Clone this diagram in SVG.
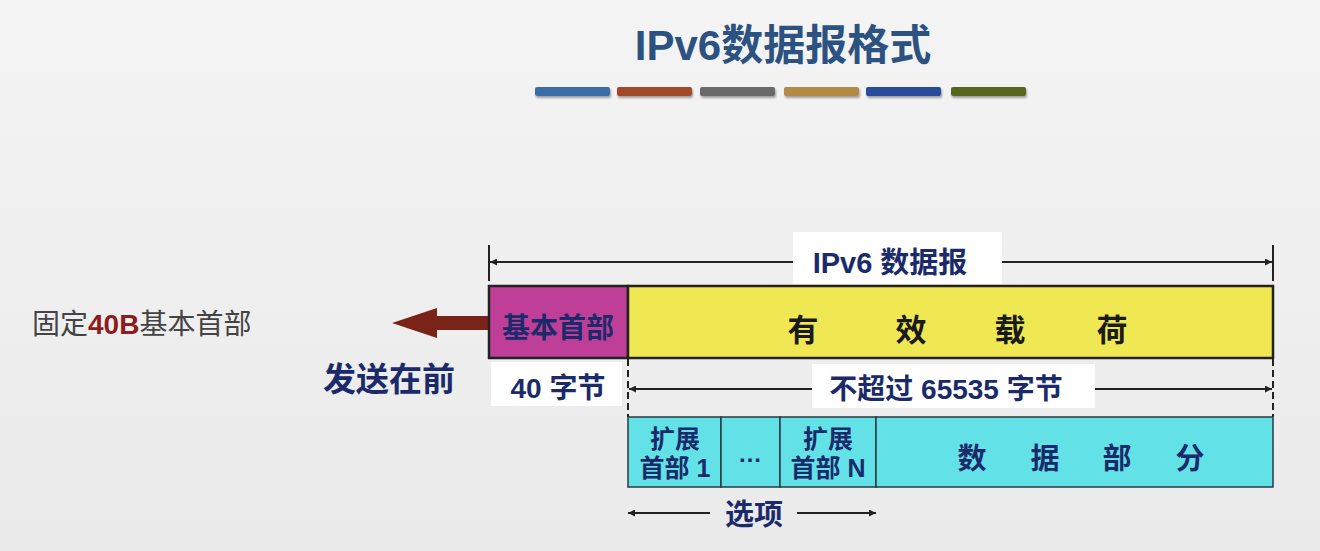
<svg xmlns="http://www.w3.org/2000/svg" width="1320" height="551" viewBox="0 0 1320 551">
  <defs>
    <linearGradient id="bg" x1="0" y1="0" x2="0" y2="1">
      <stop offset="0" stop-color="#f4f4f4"/>
      <stop offset="1" stop-color="#eaeaea"/>
    </linearGradient>
    <marker id="ah" viewBox="0 0 10 10" refX="10" refY="5" markerWidth="9" markerHeight="7" markerUnits="userSpaceOnUse" orient="auto-start-reverse">
      <path d="M0,0 L10,5 L0,10 z" fill="#222"/>
    </marker>
    <filter id="sh" x="-10%" y="-50%" width="120%" height="200%">
      <feDropShadow dx="1" dy="2" stdDeviation="1.2" flood-color="#000" flood-opacity="0.35"/>
    </filter>
  </defs>
  <style>
    text { font-family: "Liberation Sans", "Noto Sans CJK SC", sans-serif; }
    .navy { fill: #1b2a6b; font-weight: bold; }
    .cell { stroke: #2a3a40; stroke-width: 1.5; }
    .box { stroke: #222; stroke-width: 2.5; }
    .dim { stroke: #222; stroke-width: 2; fill: none; }
    .tick { stroke: #222; stroke-width: 2; }
    .dash { stroke: #222; stroke-width: 2; stroke-dasharray: 7 4; }
    .lbl { fill: #ffffff; }
  </style>

  <rect width="1320" height="551" fill="url(#bg)"/>

  <!-- title -->
  <g id="title">
    <text x="783" y="60" text-anchor="middle" font-size="42" font-weight="bold" fill="#2c5282">IPv6数据报格式</text>
    <g filter="url(#sh)">
      <rect x="535" y="87" width="75" height="9" rx="2" fill="#3b6ea8"/>
      <rect x="617" y="87" width="75" height="9" rx="2" fill="#a24a2c"/>
      <rect x="700" y="87" width="75" height="9" rx="2" fill="#6b6b6b"/>
      <rect x="784" y="87" width="75" height="9" rx="2" fill="#b38a44"/>
      <rect x="866" y="87" width="75" height="9" rx="2" fill="#2c4c9c"/>
      <rect x="951" y="87" width="75" height="9" rx="2" fill="#56661c"/>
    </g>
  </g>

  <!-- side notes -->
  <g id="note-fixed">
    <text x="32" y="334" font-size="28" fill="#444">固定<tspan fill="#8e1c1c" font-weight="bold">40B</tspan>基本首部</text>
  </g>
  <g id="note-send">
    <text x="323" y="391" font-size="33" class="navy">发送在前</text>
  </g>

  <!-- connectors and dimension lines -->
  <g id="connectors">
    <!-- send-first arrow -->
    <path d="M489,316 L437,316 L437,308 L392,323 L437,338 L437,330 L489,330 z" fill="#7a2318"/>

    <!-- whole datagram span -->
    <line class="tick" x1="489" y1="245" x2="489" y2="281"/>
    <line class="tick" x1="1273" y1="245" x2="1273" y2="281"/>
    <line class="dim" x1="490" y1="262" x2="1272" y2="262" marker-start="url(#ah)" marker-end="url(#ah)"/>

    <!-- payload span -->
    <line class="dash" x1="628" y1="359" x2="628" y2="417"/>
    <line class="dash" x1="1273" y1="359" x2="1273" y2="417"/>
    <line class="dim" x1="629" y1="389" x2="1272" y2="389" marker-start="url(#ah)" marker-end="url(#ah)"/>

    <!-- options span -->
    <line class="dim" x1="628" y1="513" x2="710" y2="513" marker-start="url(#ah)"/>
    <line class="dim" x1="797" y1="513" x2="876" y2="513" marker-end="url(#ah)"/>
  </g>

  <!-- dimension labels -->
  <g id="label-datagram">
    <rect class="lbl" x="793" y="232" width="209" height="52"/>
    <text x="890" y="273" text-anchor="middle" font-size="29" class="navy">IPv6 数据报</text>
  </g>
  <g id="label-payload-size">
    <rect class="lbl" x="812" y="364" width="283" height="44"/>
    <text x="946" y="399" text-anchor="middle" font-size="28" class="navy">不超过 65535 字节</text>
  </g>
  <g id="label-header-size">
    <rect class="lbl" x="491" y="362" width="131" height="44"/>
    <text x="558" y="398" text-anchor="middle" font-size="28" class="navy">40 字节</text>
  </g>
  <g id="label-options">
    <text x="754" y="525" text-anchor="middle" font-size="29" class="navy">选项</text>
  </g>

  <!-- datagram row -->
  <g id="base-header">
    <rect class="box" x="489" y="286" width="139" height="72" fill="#bf3f98"/>
    <text x="558" y="338" text-anchor="middle" font-size="28" class="navy">基本首部</text>
  </g>
  <g id="payload">
    <rect class="box" x="628" y="286" width="645" height="72" fill="#f0e852"/>
    <text y="341" font-size="31" fill="#1a1a1a" font-weight="bold" text-anchor="middle">
      <tspan x="803">有</tspan><tspan x="911">效</tspan><tspan x="1010">载</tspan><tspan x="1112">荷</tspan>
    </text>
  </g>

  <!-- payload breakdown row -->
  <g id="ext-header-1">
    <rect class="cell" x="628" y="417" width="93" height="70" fill="#62e2e6"/>
    <text x="675" y="448" text-anchor="middle" font-size="25" class="navy">扩展</text>
    <text x="675" y="477" text-anchor="middle" font-size="25" class="navy">首部 1</text>
  </g>
  <g id="ext-header-more">
    <rect class="cell" x="721" y="417" width="59" height="70" fill="#62e2e6"/>
    <text x="750" y="462" text-anchor="middle" font-size="24" class="navy">…</text>
  </g>
  <g id="ext-header-n">
    <rect class="cell" x="780" y="417" width="96" height="70" fill="#62e2e6"/>
    <text x="828" y="448" text-anchor="middle" font-size="25" class="navy">扩展</text>
    <text x="828" y="477" text-anchor="middle" font-size="25" class="navy">首部 N</text>
  </g>
  <g id="data-part">
    <rect class="cell" x="876" y="417" width="397" height="70" fill="#62e2e6"/>
    <text y="469" font-size="29" class="navy" text-anchor="middle">
      <tspan x="972">数</tspan><tspan x="1045">据</tspan><tspan x="1117">部</tspan><tspan x="1190">分</tspan>
    </text>
  </g>
</svg>
